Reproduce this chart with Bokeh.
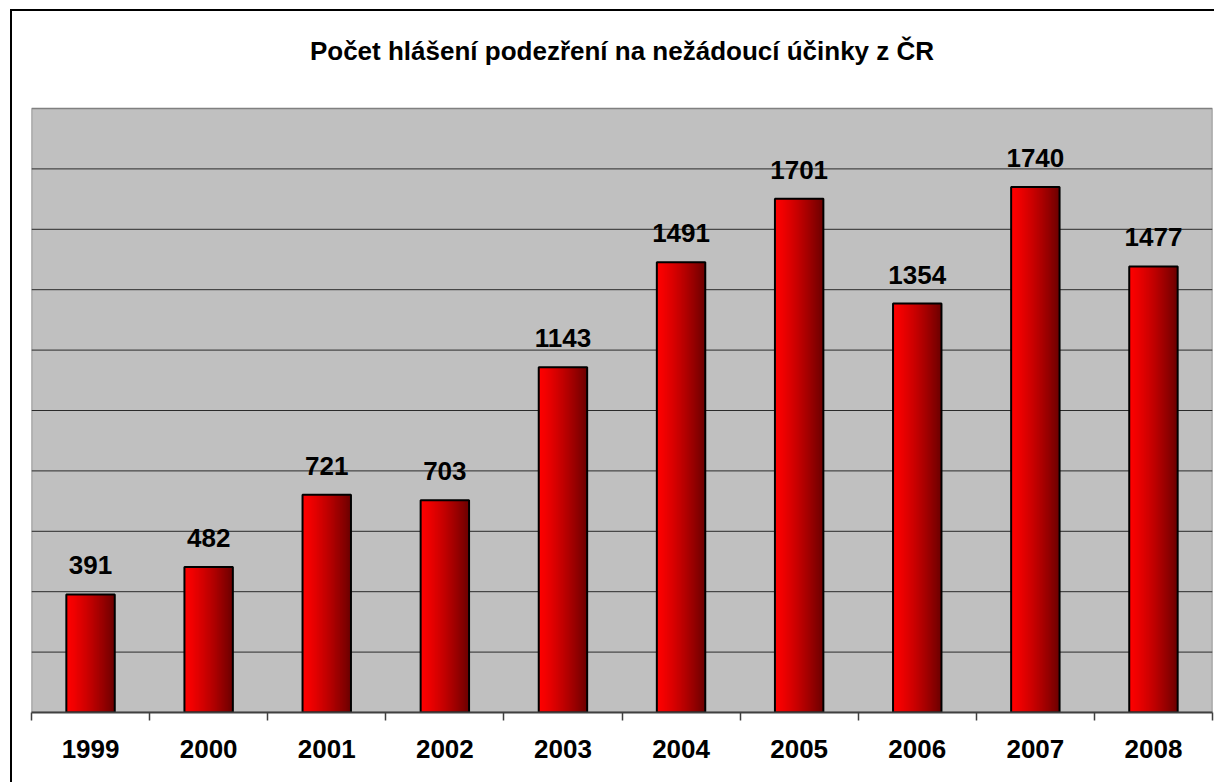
from bokeh.plotting import figure
from bokeh.models import Range1d, FixedTicker, ColumnDataSource
from bokeh.core.properties import value
from bokeh.embed import file_html
from bokeh.resources import INLINE

years = ["1999", "2000", "2001", "2002", "2003", "2004", "2005", "2006", "2007", "2008"]
counts = [391, 482, 721, 703, 1143, 1491, 1701, 1354, 1740, 1477]
title_text = "Počet hlášení podezření na nežádoucí účinky z ČR"

# value axis: 0..2000, gridline every 200 (axis labels hidden in the original)
y_max_plot = 2000
grid_values = list(range(200, 2000, 200))

FONT = "Liberation Sans"
n = len(years)
centers = [i + 0.5 for i in range(n)]
bar_w = 0.41

# frame spans from page y=11 to y=712; the grey plot area (0..2000) occupies 604 px
px_per_unit = 604 / y_max_plot
y_top = 701 / px_per_unit          # frame top, in data units
title_y = (712 - 50) / px_per_unit  # title centre, in data units

p = figure(
    width=1202, height=771,
    x_range=Range1d(0, n), y_range=Range1d(0, y_top),
    output_backend="svg", toolbar_location=None,
    y_axis_location=None,
    min_border_left=19, min_border_right=2, min_border_top=0, min_border_bottom=70,
    frame_width=1181, frame_height=701,
)
p.styles = {"border-left": "2px solid black", "border-top": "2px solid black",
            "margin-left": "10px", "margin-top": "9px"}
p.background_fill_color = "white"
p.border_fill_color = "white"
p.outline_line_color = None
p.grid.visible = False

# grey plot area
p.quad(left=[0], right=[n], bottom=[0], top=[y_max_plot],
       fill_color="#C0C0C0", line_color="#808080", line_width=1.5)
# gridlines
p.segment(x0=[0] * len(grid_values), x1=[n] * len(grid_values),
          y0=grid_values, y1=grid_values, line_color="#2a2a2a", line_width=1)

# x axis: labels at centres, boundary ticks as minor ticks
ax = p.xaxis[0]
ax.ticker = FixedTicker(ticks=centers, minor_ticks=list(range(0, n + 1)))
ax.major_label_overrides = {c: y for c, y in zip(centers, years)}
ax.major_tick_line_color = None
ax.major_tick_out = 0
ax.major_tick_in = 0
ax.minor_tick_out = 8
ax.minor_tick_in = 0
ax.minor_tick_line_color = "#404040"
ax.minor_tick_line_width = 1.5
ax.axis_line_color = "#404040"
ax.axis_line_width = 2
ax.major_label_standoff = 19
ax.major_label_text_font = FONT
ax.major_label_text_font_style = "bold"
ax.major_label_text_font_size = "26px"
ax.major_label_text_color = "black"

# gradient bars: overlapping strips, each reaching the bar's right edge
nstrip = 40
sw = bar_w / nstrip
xs, ws, tops, cols = [], [], [], []
for c, v in zip(centers, counts):
    right = c + bar_w / 2
    for k in range(nstrip):
        t = (k + 0.5) / nstrip
        r = int(round(255 - 148 * (t ** 1.25)))
        left = c - bar_w / 2 + k * sw
        xs.append((left + right) / 2)
        ws.append(right - left)
        tops.append(v)
        cols.append("#%02x0000" % r)
p.vbar(x=xs, top=tops, bottom=0, width=ws, fill_color=cols, line_color=None)

src = ColumnDataSource(dict(x=centers, top=counts, lab=[str(v) for v in counts]))
p.vbar(x="x", top="top", bottom=0, width=bar_w, source=src,
       fill_color=None, line_color="black", line_width=2)

p.text(x="x", y="top", text="lab", source=src, y_offset=-20,
       text_align="center", text_baseline="bottom",
       text_font=value(FONT), text_font_style="bold", text_font_size="26px",
       text_color="black")

# chart title
p.text(x=[n / 2], y=[title_y], text=[title_text],
       text_align="center", text_baseline="middle",
       text_font=value(FONT), text_font_style="bold", text_font_size="26px",
       text_color="black")

open("out.html", "w").write(file_html(p, INLINE))
